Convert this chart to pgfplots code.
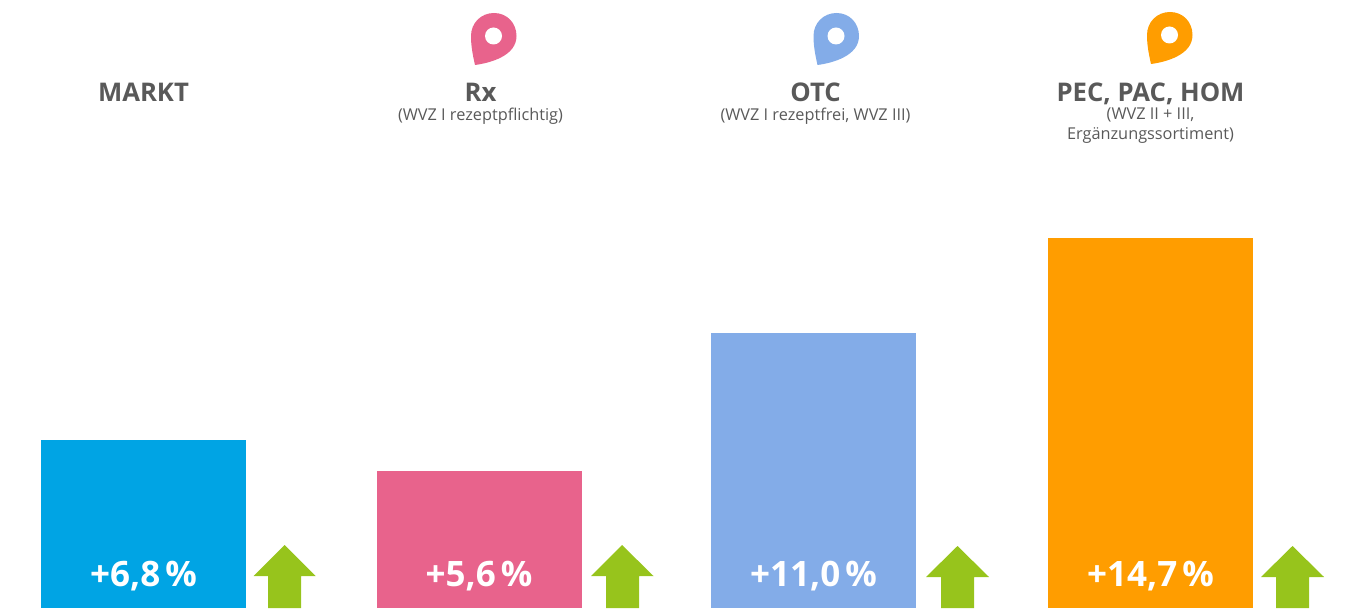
\documentclass[border=0pt]{standalone}
\usepackage{pgfplots}
\pgfplotsset{compat=1.18}
\usepackage{fontspec}
\setmainfont{Open Sans}
\definecolor{cMarkt}{HTML}{00A4E4}
\definecolor{cRx}{HTML}{E8638C}
\definecolor{cOtc}{HTML}{83ACE8}
\definecolor{cPec}{HTML}{FF9D00}
\definecolor{cUp}{HTML}{97C41C}
\definecolor{cTxt}{HTML}{595959}
% map: x = pixel x, y = 608 - pixel y
\newcommand{\pin}[3]{% dx, dy (pixel offset), colour
  \fill[#3] (axis cs:{475+#1},{608-65-#2})
    .. controls (axis cs:{472+#1},{608-52-#2}) and (axis cs:{471+#1},{608-44-#2}) .. (axis cs:{471+#1},{608-36-#2})
    .. controls (axis cs:{471+#1},{608-23-#2}) and (axis cs:{481+#1},{608-13-#2}) .. (axis cs:{494+#1},{608-13-#2})
    .. controls (axis cs:{507+#1},{608-13-#2}) and (axis cs:{516.5+#1},{608-23-#2}) .. (axis cs:{516.5+#1},{608-36-#2})
    .. controls (axis cs:{516.5+#1},{608-56-#2}) and (axis cs:{490+#1},{608-63-#2}) .. cycle;
  \fill[white] (axis cs:{493.5+#1},{608-36-#2}) circle[radius=8.5pt];
}
\newcommand{\ttl}[2]{\node[text=cTxt,font=\fontsize{25.7}{30}\selectfont\bfseries,anchor=base] at (axis cs:#1,506) {#2};}
\newcommand{\sub}[3]{\node[text=cTxt,font=\fontsize{16.3}{20}\selectfont,anchor=north,align=center,inner sep=0pt] at (axis cs:#1,#2) {#3};}
\newcommand{\val}[2]{\node[text=white,font=\fontsize{35}{40}\selectfont\bfseries,anchor=center] at (axis cs:#1,31.5) {#2\hspace{5pt}\%};}
\begin{document}
\begin{tikzpicture}
\begin{axis}[
  scale only axis, width=1346pt, height=608pt,
  xmin=0, xmax=1346, ymin=0, ymax=608,
  hide axis, clip=true,
  ybar, bar width=205pt, bar shift=0pt,
]
\addplot[fill=cMarkt,draw=none] coordinates {(143.5,168)};
\addplot[fill=cRx,draw=none] coordinates {(479.5,137)};
\addplot[fill=cOtc,draw=none] coordinates {(813.5,275)};
\addplot[fill=cPec,draw=none] coordinates {(1150.5,370)};
% arrows
\addplot[sharp plot,fill=cUp,draw=none] coordinates {(268,0)(268,32)(253.5,32)(284.5,63)(315.5,32)(301,32)(301,0)} --cycle;
\addplot[sharp plot,fill=cUp,draw=none] coordinates {(606,0)(606,32)(591,32)(622,63)(653.5,32)(639,32)(639,0)} --cycle;
\addplot[sharp plot,fill=cUp,draw=none] coordinates {(941,0)(941,31)(926,31)(957.5,62)(989,31)(974,31)(974,0)} --cycle;
\addplot[sharp plot,fill=cUp,draw=none] coordinates {(1276,0)(1276,31)(1261,31)(1292.5,62)(1324,31)(1309,31)(1309,0)} --cycle;
\pin{0}{0}{cRx}
\pin{342.5}{0}{cOtc}
\pin{676}{-1}{cPec}
\ttl{143.5}{MARKT}
\ttl{480.5}{Rx}
\ttl{815.5}{OTC}
\ttl{1150.5}{PEC, PAC, HOM}
\sub{480.5}{500}{(WVZ I rezeptpflichtig)}
\sub{815.5}{500}{(WVZ I rezeptfrei, WVZ III)}
\sub{1150.5}{500}{(WVZ II + III,\\Ergänzungssortiment)}
\val{143.5}{+6,8}
\val{479}{+5,6}
\val{813.5}{+11,0}
\val{1150.5}{+14,7}
\end{axis}
\path[use as bounding box] (0,0) rectangle (1346pt,608pt);
\end{tikzpicture}
\end{document}
